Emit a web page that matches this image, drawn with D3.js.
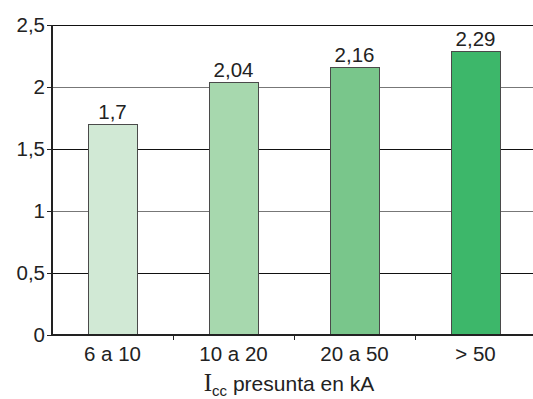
<!DOCTYPE html>
<html>
<head>
<meta charset="utf-8">
<script src="https://cdn.jsdelivr.net/npm/d3@7"></script>
<style>
  html, body { margin: 0; padding: 0; background: #fff; }
  svg { display: block; font-family: "Liberation Sans", Arial, sans-serif; }
</style>
</head>
<body>
<svg id="chart" width="533" height="399"></svg>
<script>
// Chart data
const categories = ["6 a 10", "10 a 20", "20 a 50", "> 50"];
const values = [1.7, 2.04, 2.16, 2.29];
const valueLabels = ["1,7", "2,04", "2,16", "2,29"];
const barColors = ["#d1e9d5", "#a7d8ae", "#79c68b", "#3db76a"];
const yTicks = [0, 0.5, 1, 1.5, 2, 2.5];
const yTickLabels = ["0", "0,5", "1", "1,5", "2", "2,5"];

const svg = d3.select("#chart");
const plotLeft = 52, plotRight = 536, plotTop = 25, plotBottom = 335;
const textColor = "#222";
const fontSize = 20.5;

const x = d3.scaleBand().domain(categories).range([plotLeft, plotRight])
  .paddingInner(72 / 121).paddingOuter(36 / 121);
const y = d3.scaleLinear().domain([0, 2.5]).range([plotBottom, plotTop]);

// Horizontal gridlines
svg.append("g").selectAll("line").data(yTicks.filter(d => d > 0)).join("line")
  .attr("x1", plotLeft).attr("x2", 533)
  .attr("y1", d => Math.round(y(d)) + 0.5).attr("y2", d => Math.round(y(d)) + 0.5)
  .attr("stroke", (d, i) => (i % 2 === 0 ? "#111" : "#777"))
  .attr("stroke-width", 1);

// Bars
svg.append("g").selectAll("rect").data(values).join("rect")
  .attr("x", (d, i) => Math.round(x(categories[i])) + 0.5)
  .attr("y", d => Math.round(y(d)) + 0.5)
  .attr("width", Math.round(x.bandwidth()))
  .attr("height", d => plotBottom - Math.round(y(d)))
  .attr("fill", (d, i) => barColors[i])
  .attr("stroke", "#4a4a4a")
  .attr("stroke-width", 1);

// Value labels
svg.append("g").selectAll("text").data(values).join("text")
  .attr("x", (d, i) => x(categories[i]) + x.bandwidth() / 2)
  .attr("y", d => y(d) - 5)
  .attr("text-anchor", "middle")
  .attr("font-size", fontSize)
  .attr("fill", textColor)
  .text((d, i) => valueLabels[i]);

// Y axis
const yAxis = d3.axisLeft(y).tickValues(yTicks)
  .tickFormat((d, i) => yTickLabels[i]).tickSize(5).tickPadding(2);
const gy = svg.append("g").attr("transform", `translate(${plotLeft},0)`).call(yAxis);
gy.select(".domain").attr("stroke", textColor).attr("stroke-width", 2)
  .attr("d", `M0,${plotTop}V${plotBottom + 1}`);
gy.selectAll(".tick line").attr("stroke", textColor);
gy.selectAll(".tick text").attr("font-size", fontSize).attr("fill", textColor)
  .attr("font-family", "Liberation Sans, Arial, sans-serif");

// X axis
const xAxis = d3.axisBottom(x).tickSize(0).tickPadding(11);
const gx = svg.append("g").attr("transform", `translate(0,${plotBottom})`).call(xAxis);
gx.select(".domain").attr("stroke", textColor).attr("stroke-width", 2)
  .attr("d", `M${plotLeft - 1},0H533`);
gx.selectAll(".tick text").attr("font-size", fontSize).attr("fill", textColor)
  .attr("font-family", "Liberation Sans, Arial, sans-serif");

// Category separators
const step = x.step();
svg.append("g").selectAll("line").data(categories.slice(1)).join("line")
  .attr("x1", d => Math.round(x(d) - (step - x.bandwidth()) / 2) + 0.5)
  .attr("x2", d => Math.round(x(d) - (step - x.bandwidth()) / 2) + 0.5)
  .attr("y1", plotBottom).attr("y2", plotBottom + 5)
  .attr("stroke", textColor);

// Axis title
const title = svg.append("text")
  .attr("x", 289).attr("y", 391)
  .attr("text-anchor", "middle")
  .attr("fill", textColor)
  .attr("font-size", 21);
title.append("tspan").attr("font-family", "Liberation Serif, Times New Roman, serif")
  .attr("font-size", 25).text("I");
title.append("tspan").attr("dy", 5).attr("font-size", 15).text("cc");
title.append("tspan").attr("dy", -5).text(" presunta en kA");
</script>
</body>
</html>
